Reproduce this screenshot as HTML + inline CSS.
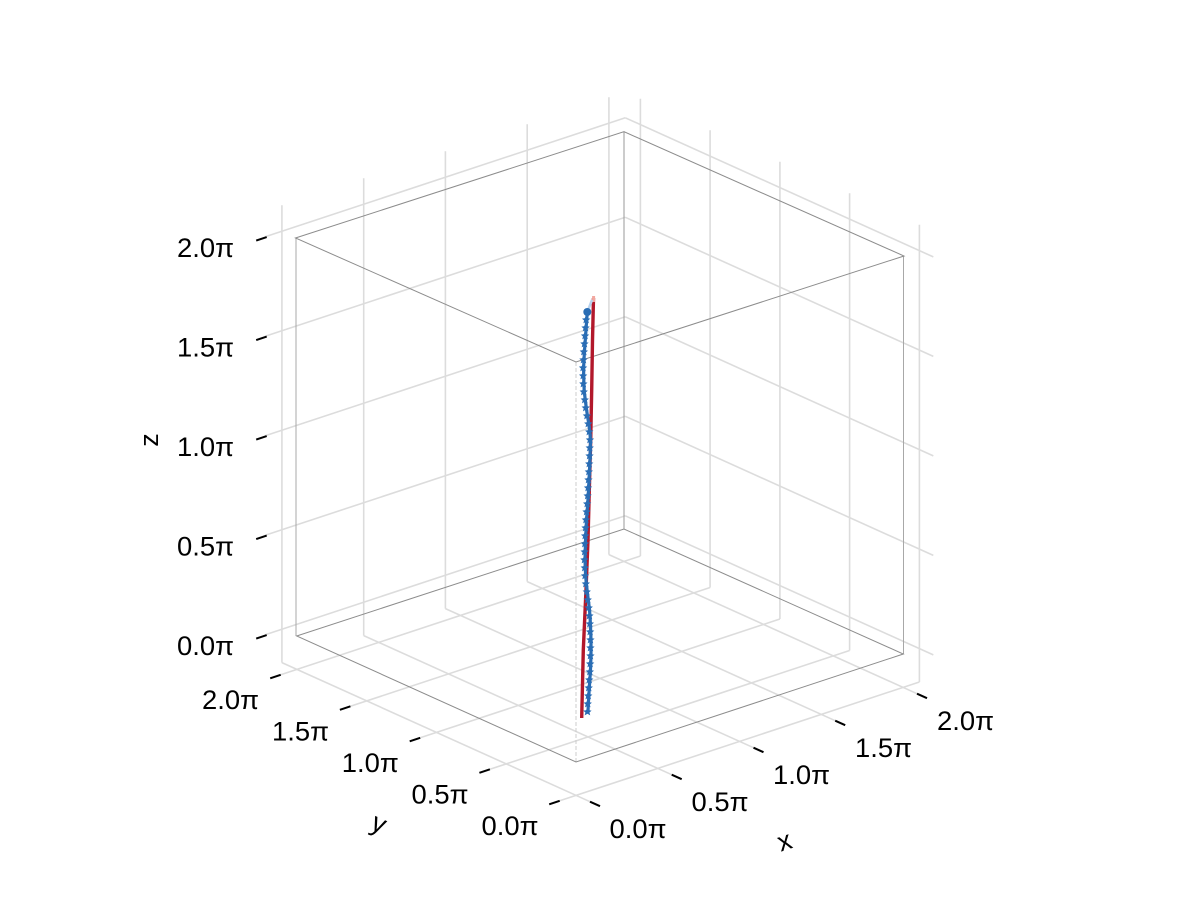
<!DOCTYPE html>
<html>
<head>
<meta charset="utf-8">
<style>
  html, body { margin:0; padding:0; background:#ffffff; }
  svg { display:block; }
  text { font-family: "Liberation Sans", "DejaVu Sans", sans-serif; fill:#000; }
</style>
</head>
<body>
<svg width="1200" height="900" viewBox="0 0 1200 900" xmlns="http://www.w3.org/2000/svg">
  <rect x="0" y="0" width="1200" height="900" fill="#ffffff"/>

  <!-- Grid lines -->
  <g stroke="#dcdcdc" stroke-width="1.6" fill="none" stroke-linecap="butt">
    <line x1="281.9" y1="662.6" x2="281.9" y2="205.3"/>
    <line x1="363.7" y1="635.6" x2="363.7" y2="178.3"/>
    <line x1="445.4" y1="608.6" x2="445.4" y2="151.3"/>
    <line x1="527.2" y1="581.6" x2="527.2" y2="124.3"/>
    <line x1="608.9" y1="554.6" x2="608.9" y2="97.3"/>
    <line x1="265.6" y1="634.6" x2="625.3" y2="515.8"/>
    <line x1="265.6" y1="535.1" x2="625.3" y2="416.3"/>
    <line x1="265.6" y1="435.6" x2="625.3" y2="316.8"/>
    <line x1="265.6" y1="336.1" x2="625.3" y2="217.3"/>
    <line x1="265.6" y1="236.6" x2="625.3" y2="117.8"/>
    <line x1="919.4" y1="682.0" x2="919.4" y2="224.7"/>
    <line x1="849.6" y1="650.5" x2="849.6" y2="193.2"/>
    <line x1="779.9" y1="619.0" x2="779.9" y2="161.7"/>
    <line x1="710.1" y1="587.5" x2="710.1" y2="130.2"/>
    <line x1="640.4" y1="556.0" x2="640.4" y2="98.7"/>
    <line x1="933.3" y1="654.9" x2="625.3" y2="515.8"/>
    <line x1="933.3" y1="555.4" x2="625.3" y2="416.3"/>
    <line x1="933.3" y1="455.9" x2="625.3" y2="316.8"/>
    <line x1="933.3" y1="356.4" x2="625.3" y2="217.3"/>
    <line x1="933.3" y1="256.9" x2="625.3" y2="117.8"/>
    <line x1="590.0" y1="801.7" x2="281.9" y2="662.6"/>
    <line x1="671.7" y1="774.7" x2="363.7" y2="635.6"/>
    <line x1="753.5" y1="747.7" x2="445.4" y2="608.6"/>
    <line x1="835.2" y1="720.7" x2="527.2" y2="581.6"/>
    <line x1="917.0" y1="693.7" x2="608.9" y2="554.6"/>
    <line x1="559.7" y1="800.8" x2="919.4" y2="682.0"/>
    <line x1="489.9" y1="769.3" x2="849.6" y2="650.5"/>
    <line x1="420.2" y1="737.8" x2="779.9" y2="619.0"/>
    <line x1="350.4" y1="706.3" x2="710.1" y2="587.5"/>
    <line x1="280.7" y1="674.8" x2="640.4" y2="556.0"/>
  </g>

  <!-- Domain box -->
  <g fill="none" stroke-width="1">
    <line x1="296" y1="238" x2="296" y2="636" stroke="#a8a8a8"/>
    <line x1="903.5" y1="256" x2="903.5" y2="654" stroke="#a8a8a8"/>
    <line x1="624" y1="132" x2="624" y2="529" stroke="#9a9a9a"/>
    <line x1="576" y1="362" x2="576" y2="762" stroke="#cccccc" stroke-dasharray="4,2"/>
    <polygon points="295.5,238 624,131.7 904,256 576,362" stroke="#8c8c8c"/>
    <polygon points="296.7,636 624,529 903.3,654 576,762" stroke="#8c8c8c"/>
  </g>

  <!-- Ticks -->
  <g stroke="#000" stroke-width="2" stroke-linecap="butt">
    <line x1="266.7" y1="635.1" x2="256.2" y2="638.6"/>
    <line x1="266.7" y1="535.6" x2="256.2" y2="539.1"/>
    <line x1="266.7" y1="436.1" x2="256.2" y2="439.6"/>
    <line x1="266.7" y1="336.6" x2="256.2" y2="340.1"/>
    <line x1="266.7" y1="237.1" x2="256.2" y2="240.6"/>
    <line x1="559.7" y1="800.8" x2="549.2" y2="804.3"/>
    <line x1="489.9" y1="769.3" x2="479.4" y2="772.8"/>
    <line x1="420.2" y1="737.8" x2="409.7" y2="741.3"/>
    <line x1="350.4" y1="706.3" x2="339.9" y2="709.8"/>
    <line x1="280.7" y1="674.8" x2="270.2" y2="678.3"/>
    <line x1="590.0" y1="801.7" x2="600.0" y2="806.2"/>
    <line x1="671.7" y1="774.7" x2="681.7" y2="779.2"/>
    <line x1="753.5" y1="747.7" x2="763.5" y2="752.2"/>
    <line x1="835.2" y1="720.7" x2="845.2" y2="725.2"/>
    <line x1="917.0" y1="693.7" x2="927.0" y2="698.2"/>
  </g>

  <!-- Tick labels -->
  <g font-size="27">
    <text x="234" y="257.1" text-anchor="end" textLength="57" lengthAdjust="spacingAndGlyphs">2.0π</text>
    <text x="234" y="356.6" text-anchor="end" textLength="57" lengthAdjust="spacingAndGlyphs">1.5π</text>
    <text x="234" y="456.1" text-anchor="end" textLength="57" lengthAdjust="spacingAndGlyphs">1.0π</text>
    <text x="234" y="555.6" text-anchor="end" textLength="57" lengthAdjust="spacingAndGlyphs">0.5π</text>
    <text x="234" y="655.1" text-anchor="end" textLength="57" lengthAdjust="spacingAndGlyphs">0.0π</text>
    <text x="538.5" y="835" text-anchor="end" textLength="57" lengthAdjust="spacingAndGlyphs">0.0π</text>
    <text x="468.5" y="803.5" text-anchor="end" textLength="57" lengthAdjust="spacingAndGlyphs">0.5π</text>
    <text x="398.8" y="772" text-anchor="end" textLength="57" lengthAdjust="spacingAndGlyphs">1.0π</text>
    <text x="329" y="740.5" text-anchor="end" textLength="57" lengthAdjust="spacingAndGlyphs">1.5π</text>
    <text x="259" y="709" text-anchor="end" textLength="57" lengthAdjust="spacingAndGlyphs">2.0π</text>
    <text x="609.5" y="838" text-anchor="start" textLength="57" lengthAdjust="spacingAndGlyphs">0.0π</text>
    <text x="691.5" y="811" text-anchor="start" textLength="57" lengthAdjust="spacingAndGlyphs">0.5π</text>
    <text x="773" y="784" text-anchor="start" textLength="57" lengthAdjust="spacingAndGlyphs">1.0π</text>
    <text x="855" y="757" text-anchor="start" textLength="57" lengthAdjust="spacingAndGlyphs">1.5π</text>
    <text x="937" y="730" text-anchor="start" textLength="57" lengthAdjust="spacingAndGlyphs">2.0π</text>
  </g>

  <!-- Axis labels -->
  <g font-size="27">
    <g transform="translate(151,440) rotate(-90)"><text x="0" y="7" text-anchor="middle">z</text></g>
    <g transform="translate(377,828) rotate(24)"><text x="0" y="4" text-anchor="middle">y</text></g>
    <g transform="translate(785,843) rotate(-18)"><text x="0" y="7" text-anchor="middle">x</text></g>
  </g>

  <!-- Red curve -->
  <polyline points="593.5,298 592.5,340 591.7,390 590.7,440 589.3,490 588,540 586,590 583.3,650 581.7,718"
            fill="none" stroke="#b2182b" stroke-width="3.4" stroke-linejoin="round" stroke-linecap="butt"/>
  <line x1="593.6" y1="296" x2="593.5" y2="302" stroke="#f2a8a0" stroke-width="3"/>

  <!-- Blue curve with markers -->
  <defs>
    <marker id="m" markerUnits="userSpaceOnUse" markerWidth="9" markerHeight="9" refX="4.5" refY="4.5" viewBox="0 0 8 8">
      <path d="M4,0.5 L5.3,2.9 L7.7,3.3 L5.8,4.9 L6.5,7.5 L4,6.1 L1.5,7.5 L2.2,4.9 L0.3,3.3 L2.7,2.9 Z" fill="#2a6db4"/>
    </marker>
  </defs>
  <line x1="592" y1="300" x2="587.3" y2="312" stroke="#b9d3ee" stroke-width="2.5"/>
  <polyline points="587.3,312 586.7,320 586.1,328 585.6,336 585.0,344 584.4,352 584.0,360 583.6,368 583.7,376 583.9,384 584.3,392 585.3,400 586.3,408 587.5,416 588.8,424 589.8,432 590.5,440 590.3,448 590.1,456 589.8,464 589.4,472 589.0,480 588.6,488 588.2,496 587.7,504 587.1,512 586.5,520 586.1,528 585.7,536 585.4,544 585.2,552 585.0,560 585.3,568 585.6,576 586.4,584 587.3,592 588.3,600 589.3,608 590.0,616 590.4,624 590.7,632 591.0,640 591.0,648 591.0,656 590.7,664 590.4,672 589.8,680 589.3,688 588.8,696 588.3,704 588.0,712"
            fill="none" stroke="#2a6db4" stroke-width="3.2" stroke-linejoin="round"
            marker-mid="url(#m)" marker-end="url(#m)"/>
  <circle cx="587.3" cy="312" r="4" fill="#2a6db4"/>
</svg>
</body>
</html>
